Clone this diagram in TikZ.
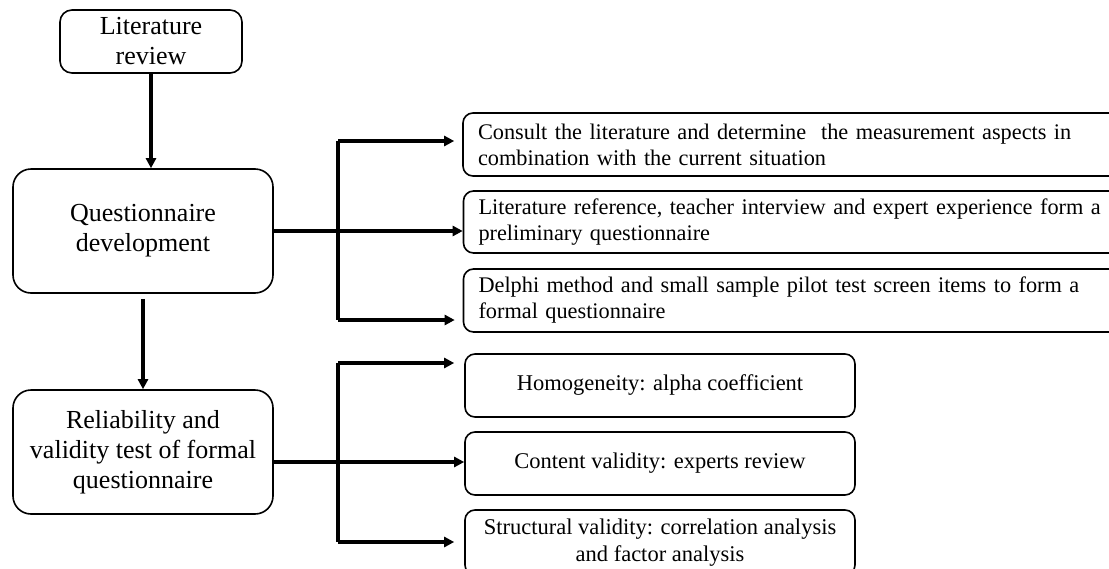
\documentclass[tikz,border=0pt]{standalone}
\usepackage{fontspec}
\setmainfont{Liberation Serif}
\usetikzlibrary{arrows.meta,calc}
\begin{document}
\begin{tikzpicture}[x=1pt,y=-1pt,
  leftbox/.style={draw,line width=1.6pt,rounded corners=18pt,align=center,
    font=\fontsize{26}{30}\selectfont,inner sep=0pt},
  rightbox/.style={draw,line width=1.6pt,rounded corners=10pt,align=left,
    font=\fontsize{22.3}{26}\selectfont,inner xsep=15pt,inner ysep=0pt,text width=637pt},
  lowbox/.style={draw,line width=1.6pt,rounded corners=10pt,align=center,
    font=\fontsize{22.5}{27}\selectfont,inner sep=0pt,minimum width=390pt},
  arr/.style={line width=3.2pt,-{Triangle[length=10pt,width=10pt]}},
  bus/.style={line width=3.2pt}]
\useasboundingbox (0,0) rectangle (1109,568);
\fill[white] (0,0) rectangle (1109,568);
\clip (0,0) rectangle (1109,568);
% left column
\node[leftbox,rounded corners=12pt,minimum width=182pt,minimum height=63pt] (LR) at (151,41.5) {Literature\\review};
\node[leftbox,minimum width=260pt,minimum height=124pt] (QD) at (143,231) {Questionnaire\\development};
\node[leftbox,minimum width=260pt,minimum height=124pt] (RV) at (143,452) {Reliability and\\validity test of formal\\questionnaire};
% upper right boxes
\node[rightbox,minimum height=63pt] (B1) at (796.5,144.5) {\makebox[590pt][s]{Consult the literature and determine \ the measurement aspects in}\\combination with the current situation};
\node[rightbox,minimum height=62pt] (B2) at (797,222) {\makebox[622pt][s]{Literature reference, teacher interview and expert experience form a}\\preliminary questionnaire};
\node[rightbox,minimum height=63pt] (B3) at (797,300.5) {\makebox[595pt][s]{Delphi method and small sample pilot test screen items to form a}\\formal questionnaire};
% lower right boxes
\node[lowbox,minimum height=63pt] (B4) at (660,385.5) {Homogeneity: alpha coefficient};
\node[lowbox,minimum height=63pt] (B5) at (660,463.5) {Content validity: experts review};
\node[lowbox,minimum height=65pt] (B6) at (660,542.5) {Structural validity: correlation analysis\\and factor analysis};
% vertical connectors
\draw[arr] (LR.south) -- (LR.south |- QD.north);
\draw[arr,shorten <=5pt] (QD.south) -- (RV.north);
% upper bus
\coordinate (u1) at (338,141);
\coordinate (u3) at (338,320);
\draw[bus] (u1) -- (u3);
\draw[arr] (QD.east) -- (QD.east -| B2.west);
\draw[arr,shorten >=8pt] (u1) -- (u1 -| B1.west);
\draw[arr,shorten >=8pt] (u3) -- (u3 -| B3.west);
% lower bus
\coordinate (l1) at (338,363);
\coordinate (l3) at (338,542);
\coordinate (rv) at ($(RV.east)+(0,10)$);
\draw[bus] (l1) -- (l3);
\draw[arr] (rv) -- (rv -| B5.west);
\draw[arr,shorten >=10pt] (l1) -- (l1 -| B4.west);
\draw[arr,shorten >=10pt] (l3) -- (l3 -| B6.west);
\end{tikzpicture}
\end{document}
